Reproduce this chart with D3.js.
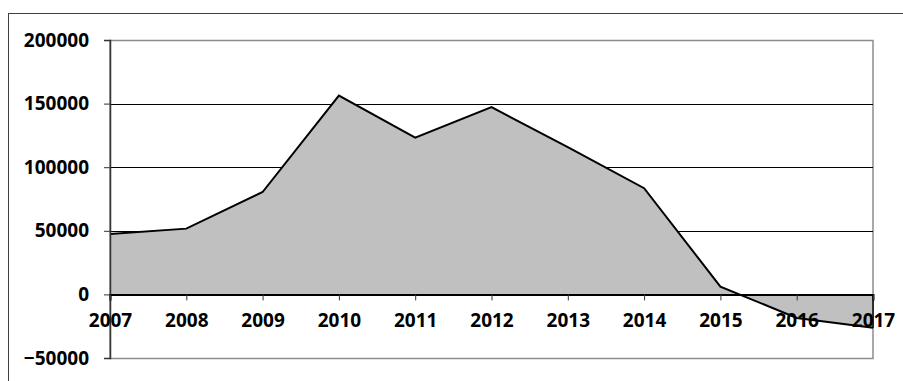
<!DOCTYPE html>
<html>
<head>
<meta charset="utf-8">
<script src="https://cdn.jsdelivr.net/npm/d3@7"></script>
<style>
  html, body { margin: 0; padding: 0; background: #fff; }
  svg text { font-family: "Open Sans", Lato, sans-serif; font-weight: 700; fill: #000; }
</style>
</head>
<body>
<div id="chart"></div>
<script>
// data
const years = [2007, 2008, 2009, 2010, 2011, 2012, 2013, 2014, 2015, 2016, 2017];
const values = [47500, 51700, 80500, 156300, 123300, 147200, 115800, 83500, 6100, -18500, -26300];
const yTicks = [-50000, 0, 50000, 100000, 150000, 200000];

const W = 903, H = 381;
const margin = { top: 40, right: 30, bottom: 23, left: 110 };
const width = W - margin.left - margin.right;
const height = H - margin.top - margin.bottom;

const root = d3.select("#chart").append("svg")
  .attr("width", W).attr("height", H);

// outer chart frame
root.append("rect")
  .attr("x", 8.5).attr("y", 13.5)
  .attr("width", W).attr("height", H)
  .attr("fill", "none").attr("stroke", "#404040").attr("stroke-width", 1);

const svg = root.append("g").attr("transform", `translate(${margin.left},${margin.top})`);

const x = d3.scaleLinear().domain([years[0], years[years.length - 1]]).range([0, width]);
const y = d3.scaleLinear().domain([-50000, 200000]).range([height, 0]);

const data = years.map((yr, i) => ({ yr, v: values[i] }));

// plot area border
svg.append("rect")
  .attr("x", 0).attr("y", 0.5)
  .attr("width", width).attr("height", height)
  .attr("fill", "none").attr("stroke", "#8c8c8c").attr("stroke-width", 1.5);

// gridlines
svg.append("g")
  .selectAll("line").data(yTicks.filter(t => t > -50000 && t < 200000 && t !== 0)).enter()
  .append("line")
  .attr("x1", 0).attr("x2", width)
  .attr("y1", d => Math.round(y(d)) + 0.5).attr("y2", d => Math.round(y(d)) + 0.5)
  .attr("stroke", "#000").attr("stroke-width", 1);

// area
svg.append("path").datum(data)
  .attr("d", d3.area().x(d => x(d.yr)).y0(y(0)).y1(d => y(d.v)))
  .attr("fill", "#c0c0c0");

// outline
svg.append("path").datum(data)
  .attr("d", d3.line().x(d => x(d.yr)).y(d => y(d.v)))
  .attr("fill", "none").attr("stroke", "#000").attr("stroke-width", 2)
  .attr("stroke-linejoin", "miter");

const last = data[data.length - 1];
svg.append("line")
  .attr("x1", x(last.yr)).attr("x2", x(last.yr))
  .attr("y1", y(0)).attr("y2", y(last.v))
  .attr("stroke", "#000").attr("stroke-width", 1.5);

// y axis
const yAxis = svg.append("g")
  .call(d3.axisLeft(y).tickValues(yTicks).tickSize(6).tickPadding(15).tickFormat(d3.format("d")));
yAxis.select(".domain").attr("stroke", "#333").attr("stroke-width", 1.5);
yAxis.selectAll(".tick line").attr("stroke", "#333");
yAxis.selectAll("text").attr("font-size", "19px").attr("fill", "#000");

// x axis on the zero line
const xAxis = svg.append("g")
  .attr("transform", `translate(0,${y(0)})`)
  .call(d3.axisBottom(x).tickValues(years).tickSize(6).tickPadding(13).tickFormat(d3.format("d")));
xAxis.select(".domain").attr("stroke", "#000").attr("stroke-width", 2);
xAxis.selectAll(".tick line").attr("stroke", "#333");
xAxis.selectAll("text").attr("font-size", "19px").attr("fill", "#000");
</script>
</body>
</html>
